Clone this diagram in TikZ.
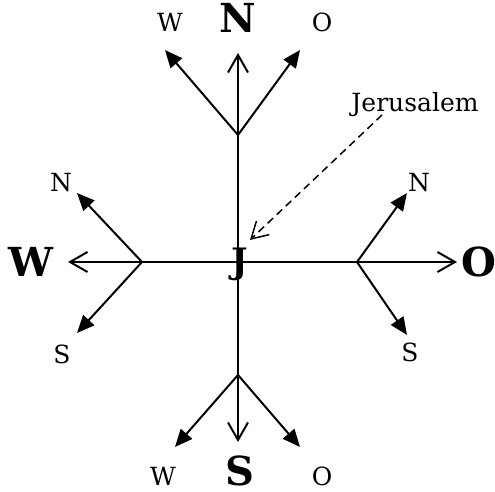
\documentclass[tikz,border=0pt]{standalone}
\usepackage{fontspec}
\setmainfont{DejaVu Serif}
\usetikzlibrary{arrows.meta}

\begin{document}
\begin{tikzpicture}[
        x=0.4pt, y=0.4pt,
        axis/.style     ={-{Straight Barb[length=7pt,width=8pt]}, line width=0.8pt},
        branch/.style   ={-{Triangle[length=7pt,width=6pt]}, line width=0.8pt},
        hint/.style     ={-{Straight Barb[length=6.5pt,width=7.5pt]}, dash pattern=on 3pt off 2pt, line width=0.6pt},
        dirbig/.style   ={inner sep=0pt, font=\fontsize{16}{16}\selectfont\bfseries},
        dirsmall/.style ={inner sep=0pt, font=\fontsize{10}{10}\selectfont}
    ]
    \useasboundingbox (-238,-230) rectangle (257,262);

    %-----------------  Centre J  --------------------
    \coordinate (c) at (0,0);
    \node[inner sep=0pt, font=\fontsize{14}{14}\selectfont\bfseries] (J) at (2,-2) {J};

    % Branch points on the axes
    \coordinate (nb) at (0,127);
    \coordinate (sb) at (0,-113);
    \coordinate (wb) at (-96,0);
    \coordinate (ob) at (119,0);

    % Axis ends
    \coordinate (ntip) at (0,209);
    \coordinate (stip) at (0,-180);
    \coordinate (wtip) at (-170,0);
    \coordinate (otip) at (219,0);

    % Branch ends
    \coordinate (nwtip) at (-73,212);
    \coordinate (notip) at (62,212);
    \coordinate (swtip) at (-63,-185);
    \coordinate (sotip) at (62,-185);
    \coordinate (wntip) at (-161,69);
    \coordinate (wstip) at (-161,-71);
    \coordinate (ontip) at (169,69);
    \coordinate (ostip) at (169,-73);

    %-----------------  Axes  --------------------
    \draw[axis] (c) -- (ntip);
    \draw[axis] (c) -- (stip);
    \draw[axis] (c) -- (wtip);
    \draw[axis] (c) -- (otip);

    %-----------------  Branches  --------------------
    \draw[branch] (nb) -- (nwtip);
    \draw[branch] (nb) -- (notip);
    \draw[branch] (sb) -- (swtip);
    \draw[branch] (sb) -- (sotip);
    \draw[branch] (wb) -- (wntip);
    \draw[branch] (wb) -- (wstip);
    \draw[branch] (ob) -- (ontip);
    \draw[branch] (ob) -- (ostip);

    %-----------------  Labels  --------------------
    \node[dirbig] (N) at (0,244) {N};
    \node[dirbig] (S) at (2,-209) {S};
    \node[dirbig] (W) at (-207,0) {W};
    \node[dirbig] (O) at (241,0) {O};

    \node[dirsmall] (nw) at (-68,240) {W};
    \node[dirsmall] (no) at (84,240) {O};
    \node[dirsmall] (sw) at (-75,-214) {W};
    \node[dirsmall] (so) at (84,-214) {O};
    \node[dirsmall] (wn) at (-177,79) {N};
    \node[dirsmall] (ws) at (-176,-92) {S};
    \node[dirsmall] (on) at (181,79) {N};
    \node[dirsmall] (os) at (172,-90) {S};

    % Jerusalem and its pointer
    \node[dirsmall] (jer) at (177,157) {Jerusalem};
    \coordinate (jtail) at (144,147);
    \coordinate (jhead) at (12,22);
    \draw[hint] (jtail) -- (jhead);
\end{tikzpicture}
\end{document}
